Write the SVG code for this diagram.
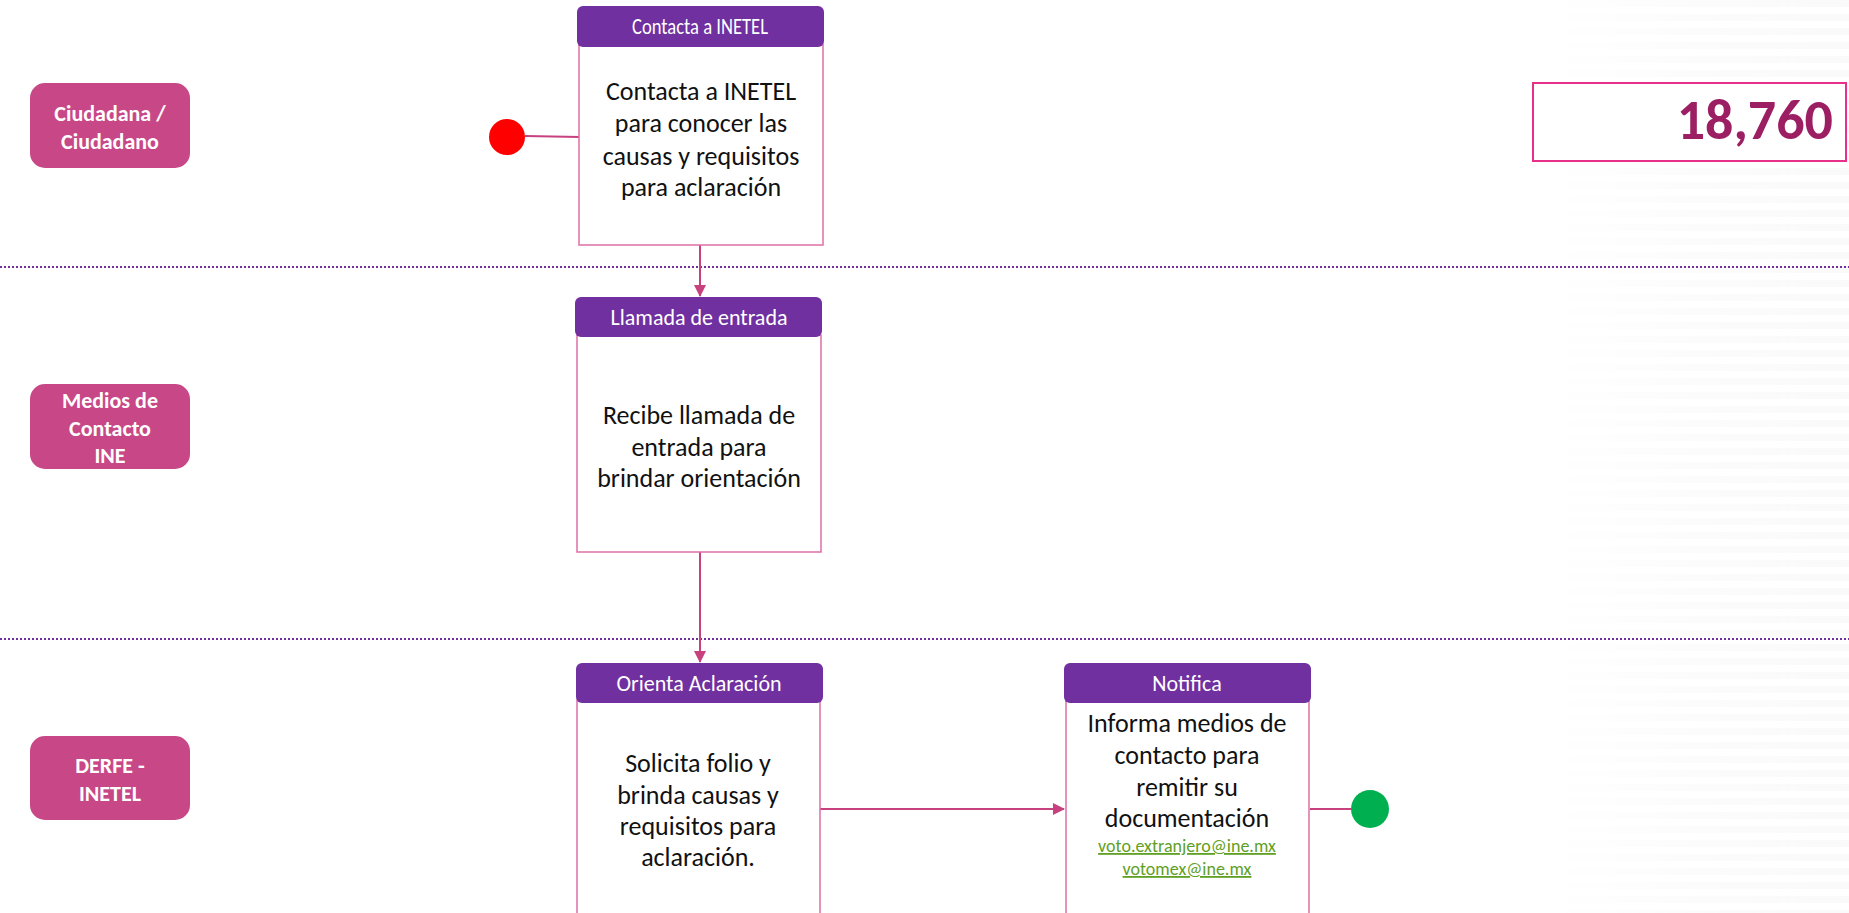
<svg xmlns="http://www.w3.org/2000/svg" width="1849" height="913" viewBox="0 0 1849 913">
<style>
  .lane{fill:#C84787;}
  .lanet{font-family:Carlito,Lato,"Liberation Sans",sans-serif;font-weight:bold;font-size:22px;fill:#fff;text-anchor:middle;}
  .hdr{fill:#7030A0;}
  .hdrt{font-family:Carlito,Lato,"Liberation Sans",sans-serif;font-size:22px;fill:#fff;text-anchor:middle;}
  .body{fill:#fff;stroke:#DE6FA6;stroke-width:1.5;}
  .bt{font-family:Carlito,Lato,"Liberation Sans",sans-serif;font-size:26px;fill:#111;text-anchor:middle;}
  .link{font-family:Carlito,Lato,"Liberation Sans",sans-serif;font-size:18px;fill:#5FA024;text-anchor:middle;text-decoration:underline;}
  .sep{stroke:#7030A0;stroke-width:2;stroke-dasharray:2 2;fill:none;}
  .con{stroke:#C8417F;stroke-width:2;fill:none;}
</style>
<defs>
  <marker id="arr" markerWidth="12" markerHeight="12" refX="11" refY="6" orient="auto" markerUnits="userSpaceOnUse">
    <path d="M0,0 L12,6 L0,12 Z" fill="#C8417F"/>
  </marker>
  <linearGradient id="fade" x1="0" y1="0" x2="1" y2="0">
    <stop offset="0" stop-color="#f3f3f3" stop-opacity="0"/>
    <stop offset="0.5" stop-color="#f3f3f3" stop-opacity="0.6"/>
    <stop offset="1" stop-color="#f3f3f3" stop-opacity="1"/>
  </linearGradient>
  <pattern id="stripes" x="1537" y="0" width="312" height="14" patternUnits="userSpaceOnUse">
    <rect x="0" y="0" width="312" height="7" fill="url(#fade)"/>
  </pattern>
</defs>
<rect width="1849" height="913" fill="#fff"/>
<g id="background-stripes" opacity="0.45">
  <rect x="1537" y="0" width="312" height="913" fill="url(#stripes)"/>
</g>

<g id="separators">
  <line class="sep" x1="0" y1="267" x2="1849" y2="267"/>
  <line class="sep" x1="0" y1="639" x2="1849" y2="639"/>
</g>

<g id="lane-ciudadano">
  <rect class="lane" x="30" y="83" width="160" height="85" rx="15"/>
  <text class="lanet" x="110" y="121">Ciudadana /</text>
  <text class="lanet" x="110" y="149">Ciudadano</text>
</g>
<g id="lane-medios">
  <rect class="lane" x="30" y="384" width="160" height="85" rx="15"/>
  <text class="lanet" x="110" y="408">Medios de</text>
  <text class="lanet" x="110" y="436">Contacto</text>
  <text class="lanet" x="110" y="463">INE</text>
</g>
<g id="lane-derfe">
  <rect class="lane" x="30" y="736" width="160" height="84" rx="15"/>
  <text class="lanet" x="110" y="773">DERFE -</text>
  <text class="lanet" x="110" y="801">INETEL</text>
</g>

<g id="counter">
  <rect x="1533" y="83" width="313" height="78" fill="#fff" stroke="#E8308A" stroke-width="2"/>
  <text x="1833" y="139" font-family="Carlito,Lato,'Liberation Sans',sans-serif" font-weight="600" font-size="56" fill="#9C1F63" text-anchor="end">18,760</text>
</g>

<g id="connectors">
  <line class="con" x1="525" y1="136" x2="580" y2="137"/>
  <line class="con" x1="700" y1="245" x2="700" y2="296" marker-end="url(#arr)"/>
  <line class="con" x1="700" y1="552" x2="700" y2="662" marker-end="url(#arr)"/>
  <line class="con" x1="820" y1="809" x2="1064" y2="809" marker-end="url(#arr)"/>
  <line class="con" x1="1310" y1="809" x2="1352" y2="809"/>
</g>

<g id="start">
  <circle cx="507" cy="137" r="18" fill="#FF0000"/>
</g>
<g id="end">
  <circle cx="1370" cy="809" r="19" fill="#00B050"/>
</g>

<g id="node-contacta">
  <rect class="body" x="579" y="44" width="244" height="201"/>
  <rect class="hdr" x="577" y="6" width="247" height="41" rx="6"/>
  <text class="hdrt" x="700" y="34" textLength="136" lengthAdjust="spacingAndGlyphs">Contacta a INETEL</text>
  <text class="bt" x="701" y="100">Contacta a INETEL</text>
  <text class="bt" x="701" y="132">para conocer las</text>
  <text class="bt" x="701" y="165">causas y requisitos</text>
  <text class="bt" x="701" y="196">para aclaración</text>
</g>

<g id="node-llamada">
  <rect class="body" x="577" y="335" width="244" height="217"/>
  <rect class="hdr" x="575" y="297" width="247" height="40" rx="6"/>
  <text class="hdrt" x="699" y="325">Llamada de entrada</text>
  <text class="bt" x="699" y="424">Recibe llamada de</text>
  <text class="bt" x="699" y="456">entrada para</text>
  <text class="bt" x="699" y="487">brindar orientación</text>
</g>

<g id="node-orienta">
  <rect class="body" x="577" y="700" width="243" height="230"/>
  <rect class="hdr" x="576" y="663" width="247" height="40" rx="6"/>
  <text class="hdrt" x="699" y="691">Orienta Aclaración</text>
  <text class="bt" x="698" y="772">Solicita folio y</text>
  <text class="bt" x="698" y="804">brinda causas y</text>
  <text class="bt" x="698" y="835">requisitos para</text>
  <text class="bt" x="698" y="866">aclaración.</text>
</g>

<g id="node-notifica">
  <rect class="body" x="1066" y="700" width="243" height="230"/>
  <rect class="hdr" x="1064" y="663" width="247" height="40" rx="6"/>
  <text class="hdrt" x="1187" y="691">Notifica</text>
  <text class="bt" x="1187" y="732">Informa medios de</text>
  <text class="bt" x="1187" y="764">contacto para</text>
  <text class="bt" x="1187" y="796">remitir su</text>
  <text class="bt" x="1187" y="827">documentación</text>
  <text class="link" x="1187" y="852">voto.extranjero@ine.mx</text>
  <text class="link" x="1187" y="875">votomex@ine.mx</text>
</g>
</svg>
